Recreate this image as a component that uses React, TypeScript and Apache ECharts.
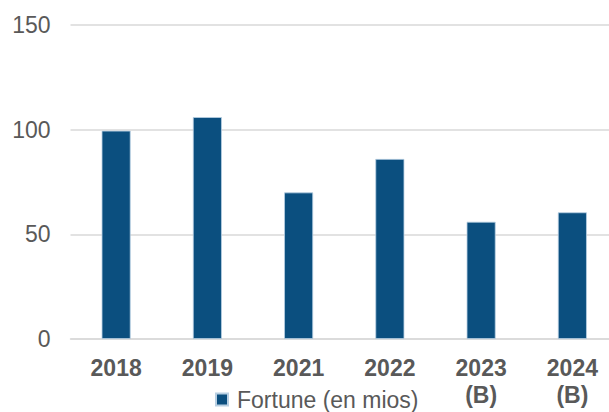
import React, { useEffect, useRef } from "react";
import * as echarts from "echarts";

const categories = ["2018", "2019", "2021", "2022", "2023\n(B)", "2024\n(B)"];
const fortune = [99.5, 106, 70, 86, 56, 60.5];
const seriesName = "Fortune (en mios)";
const yTicks = { min: 0, max: 150, interval: 50 };

export default function App() {
  const ref = useRef<HTMLDivElement>(null);
  useEffect(() => {
    if (!ref.current) return;
    const chart = echarts.init(ref.current, undefined, { renderer: "svg" });
    const font = "'Liberation Sans', Arial, sans-serif";
    chart.setOption({
      animation: false,
      backgroundColor: "#ffffff",
      grid: { left: 70.5, right: 0, top: 25, bottom: 73 },
      legend: {
        left: 215,
        top: 388,
        padding: 0,
        itemWidth: 12,
        itemHeight: 12,
        icon: "rect",
        textStyle: { color: "#595959", fontSize: 23, fontFamily: font, padding: [0, 0, 0, 4] },
        data: [seriesName],
      },
      xAxis: {
        type: "category",
        data: categories,
        axisTick: { show: false },
        axisLine: { lineStyle: { color: "#d9d9d9", width: 1.5 } },
        axisLabel: {
          color: "#595959",
          fontSize: 23,
          fontWeight: "bold",
          fontFamily: font,
          lineHeight: 27,
          margin: 15,
          interval: 0,
        },
      },
      yAxis: {
        type: "value",
        min: yTicks.min,
        max: yTicks.max,
        interval: yTicks.interval,
        axisLine: { show: false },
        axisTick: { show: false },
        splitLine: { lineStyle: { color: "#d9d9d9", width: 1.5 } },
        axisLabel: { color: "#595959", fontSize: 23, fontFamily: font, margin: 20 },
      },
      series: [
        {
          name: seriesName,
          type: "bar",
          data: fortune,
          barWidth: 29,
          itemStyle: { color: "#0b4f7f", borderColor: "#b8cfe2", borderWidth: 0.8 },
        },
      ],
    });
    return () => chart.dispose();
  }, []);
  return (
    <div
      style={{
        position: "absolute",
        left: 0,
        top: 0,
        width: 609,
        height: 412,
        overflow: "hidden",
        background: "#ffffff",
      }}
    >
      <div ref={ref} style={{ width: 618, height: 412 }} />
    </div>
  );
}
